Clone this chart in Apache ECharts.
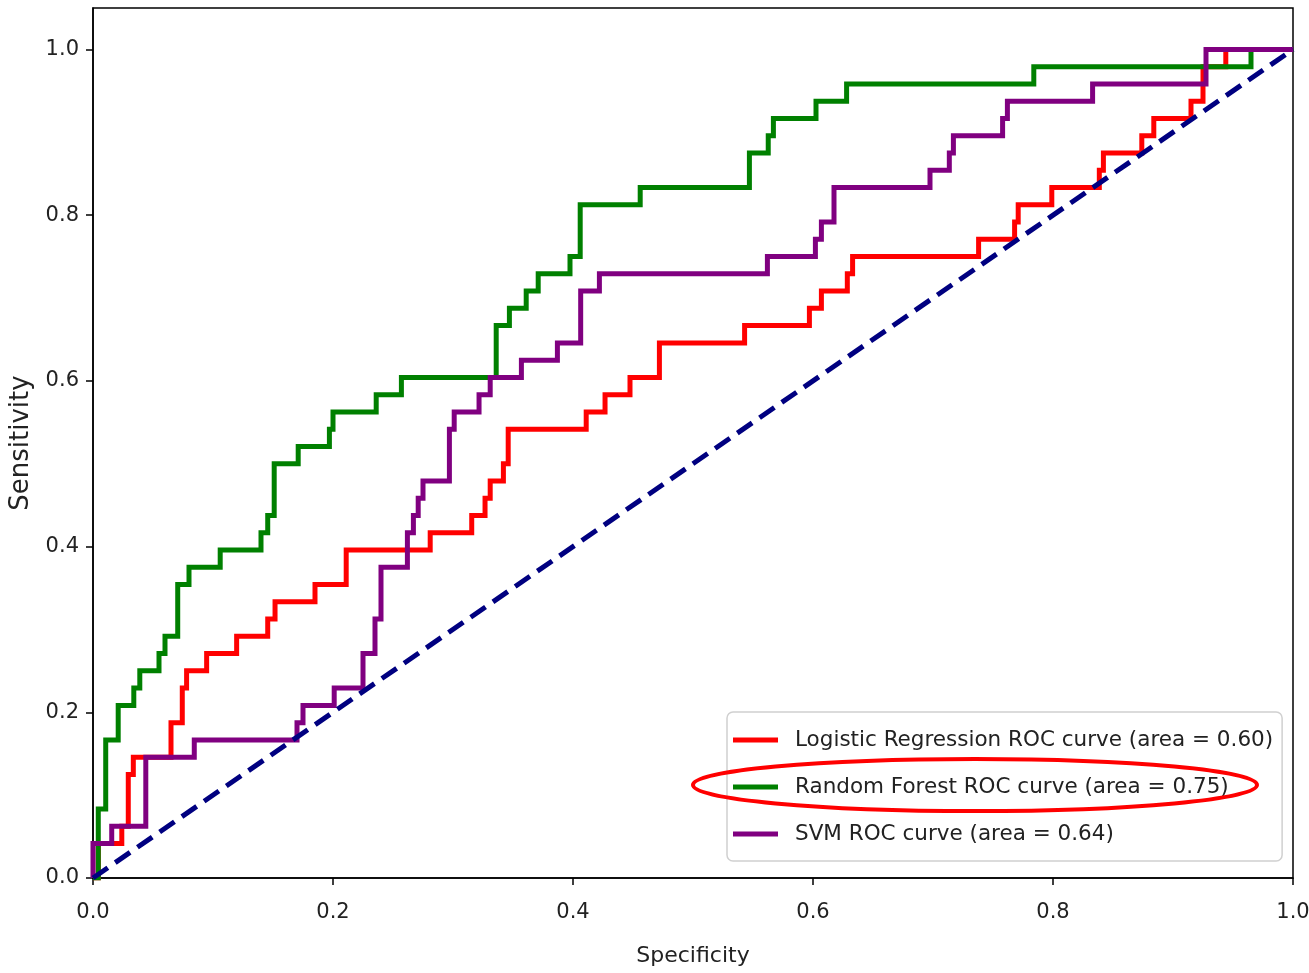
<!DOCTYPE html>
<html>
<head>
<meta charset="utf-8">
<script src="https://cdn.jsdelivr.net/npm/echarts@6/dist/echarts.min.js"></script>
<style>
html,body{margin:0;padding:0;background:#fff;}
#chart{width:1309px;height:973px;}
</style>
</head>
<body>
<div id="chart"></div>
<script>
// ROC step vertices: [specificity axis value, sensitivity reached at that x]
const logisticROC = [
  [0,0],[0.0044,0.0417],[0.024,0.0625],[0.0294,0.125],[0.0336,0.1458],[0.065,0.1875],
  [0.0744,0.2292],[0.078,0.25],[0.0947,0.2708],[0.1197,0.2917],[0.1456,0.3125],[0.1517,0.3333],
  [0.185,0.3542],[0.211,0.3958],[0.281,0.4167],[0.3156,0.4375],[0.3267,0.4583],[0.331,0.4792],
  [0.342,0.5],[0.346,0.5417],[0.411,0.5625],[0.4267,0.5833],[0.4475,0.6042],[0.472,0.6458],
  [0.543,0.6667],[0.597,0.6875],[0.607,0.7083],[0.6286,0.7292],[0.633,0.75],[0.738,0.7708],
  [0.768,0.7917],[0.771,0.8125],[0.799,0.8333],[0.8386,0.8542],[0.842,0.875],[0.874,0.8958],
  [0.884,0.9167],[0.915,0.9375],[0.925,0.9792],[0.944,1.0],[1.0,1.0]
];
const forestROC = [
  [0,0],[0.0044,0.0833],[0.0106,0.1667],[0.021,0.2083],[0.034,0.2292],[0.039,0.25],
  [0.055,0.2708],[0.060,0.2917],[0.0706,0.3542],[0.080,0.375],[0.106,0.3958],[0.140,0.4167],
  [0.1456,0.4375],[0.151,0.5],[0.171,0.5208],[0.197,0.5417],[0.200,0.5625],[0.236,0.5833],
  [0.257,0.6042],[0.336,0.6667],[0.347,0.6875],[0.361,0.7083],[0.371,0.7292],[0.3975,0.75],
  [0.406,0.8125],[0.456,0.8333],[0.547,0.875],[0.5627,0.8958],[0.567,0.9167],[0.6025,0.9375],
  [0.628,0.9583],[0.784,0.9792],[0.965,1.0],[1.0,1.0]
];
const svmROC = [
  [0,0],[0,0.0417],[0.0156,0.0625],[0.044,0.1458],[0.0844,0.1667],[0.170,0.1875],
  [0.175,0.2083],[0.201,0.2292],[0.225,0.2708],[0.235,0.3125],[0.240,0.375],[0.262,0.4167],
  [0.267,0.4375],[0.271,0.4583],[0.275,0.4792],[0.297,0.5417],[0.301,0.5625],[0.3217,0.5833],
  [0.331,0.6042],[0.357,0.625],[0.387,0.6458],[0.4064,0.7083],[0.422,0.7292],[0.562,0.75],
  [0.602,0.7708],[0.607,0.7917],[0.6175,0.8333],[0.6975,0.8542],[0.7136,0.875],[0.717,0.8958],
  [0.758,0.9167],[0.762,0.9375],[0.833,0.9583],[0.9275,1.0],[1.0,1.0]
];
const chanceLine = [[0,0],[1,1]];
const seriesNames = [
  'Logistic Regression ROC curve (area = 0.60)',
  'Random Forest ROC curve (area = 0.75)',
  'SVM ROC curve (area = 0.64)'
];
const yTicks = [0, 0.2, 0.4, 0.6, 0.8, 1.0];
const xTicks = [0, 0.2, 0.4, 0.6, 0.8, 1.0];

const FONT = "'DejaVu Sans', sans-serif";
const chart = echarts.init(document.getElementById('chart'), null, {renderer: 'canvas'});

function stepSeries(name, data, color) {
  return {
    name: name, type: 'line', data: data, step: 'end',
    showSymbol: false, symbol: 'none',
    lineStyle: {color: color, width: 5, cap: 'butt', join: 'miter'},
    itemStyle: {color: color},
    emphasis: {disabled: true},
    clip: true
  };
}

chart.setOption({
  animation: false,
  backgroundColor: '#ffffff',
  grid: {left: 93, right: 16, top: 8, bottom: 95, show: true, borderColor: '#000', borderWidth: 1.5,
    backgroundColor: 'transparent', containLabel: false, outerBoundsMode: 'none'},
  xAxis: {
    type: 'value', min: 0, max: 1, interval: 0.2,
    name: 'Specificity', nameLocation: 'middle', nameGap: 67,
    nameTextStyle: {fontFamily: FONT, fontSize: 22, color: '#222'},
    axisLine: {show: true, onZero: false, lineStyle: {color: '#000', width: 1.5}},
    axisTick: {show: true, inside: false, length: 7, lineStyle: {color: '#000', width: 1.5}, customValues: xTicks},
    axisLabel: {fontFamily: FONT, fontSize: 21, color: '#222', margin: 24, customValues: xTicks,
      formatter: v => v.toFixed(1)},
    splitLine: {show: false}
  },
  yAxis: {
    type: 'value', min: 0, max: 1.05,
    name: 'Sensitivity', nameLocation: 'middle', nameGap: 57, nameRotate: 90,
    nameTextStyle: {fontFamily: FONT, fontSize: 26, color: '#222'},
    axisLine: {show: true, onZero: false, lineStyle: {color: '#000', width: 1.5}},
    axisTick: {show: true, inside: false, length: 7, lineStyle: {color: '#000', width: 1.5}, customValues: yTicks},
    axisLabel: {fontFamily: FONT, fontSize: 21, color: '#222', margin: 14, customValues: yTicks,
      formatter: v => v.toFixed(1)},
    splitLine: {show: false}
  },
  legend: {
    orient: 'vertical', left: 727, top: 712,
    data: seriesNames,
    icon: 'rect', itemWidth: 45, itemHeight: 5, itemGap: 17,
    padding: [13, 9, 12, 6],
    backgroundColor: '#ffffff', borderColor: '#d0d0d0', borderWidth: 1.5, borderRadius: 6,
    textStyle: {fontFamily: FONT, fontSize: 21.5, color: '#222', lineHeight: 30, padding: [0, 0, 0, 12]},
    selectedMode: false
  },
  series: [
    stepSeries(seriesNames[0], logisticROC, '#ff0000'),
    stepSeries(seriesNames[1], forestROC, '#008000'),
    stepSeries(seriesNames[2], svmROC, '#800080'),
    {
      name: 'chance', type: 'line', data: chanceLine, showSymbol: false, symbol: 'none',
      lineStyle: {color: '#000080', width: 5, type: [18, 9], cap: 'butt'},
      emphasis: {disabled: true}, clip: true
    }
  ],
  graphic: [{
    type: 'ellipse', z: 100,
    shape: {cx: 975, cy: 785, rx: 282, ry: 26},
    style: {fill: 'none', stroke: '#ff0000', lineWidth: 4}
  }]
});
</script>
</body>
</html>
